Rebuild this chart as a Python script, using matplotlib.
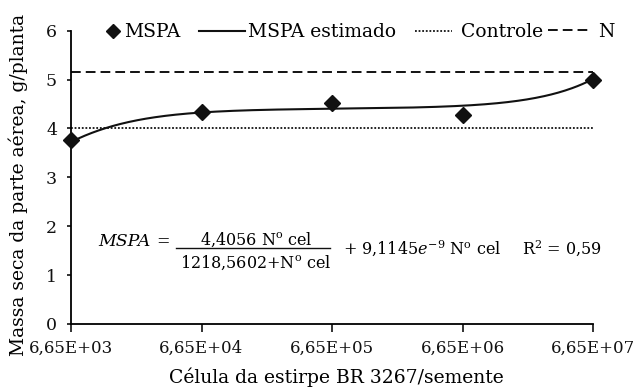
import numpy as np
import matplotlib.pyplot as plt
from matplotlib.lines import Line2D

plt.rcParams['font.family'] = ['DejaVu Serif']
plt.rcParams['mathtext.fontset'] = 'dejavuserif'

# data
cells = [6.65e3, 6.65e4, 6.65e5, 6.65e6, 6.65e7]
tick_labels = ["6,65E+03", "6,65E+04", "6,65E+05", "6,65E+06", "6,65E+07"]
mspa = [3.76, 4.34, 4.53, 4.27, 4.99]
controle = 4.0
n_level = 5.16
# coefficients printed in the fitted equation
a_coef = 4.4056
k_coef = 1218.5602
b_coef = 9.1145e-9

x_fit = np.logspace(np.log10(cells[0]), np.log10(cells[-1]), 300)
y_fit = a_coef * x_fit / (k_coef + x_fit) + b_coef * x_fit

INK = "#111111"
DOT = (0, (1, 1))
DASH = (0, (5, 2.6))

W, H = 636, 388
fig = plt.figure(figsize=(W / 100, H / 100), dpi=100)
ax = fig.add_axes([71 / W, 1 - 324 / H, (593 - 71) / W, (324 - 30.7) / H])

ax.plot(x_fit, y_fit, color=INK, lw=1.5)
ax.plot([cells[0], cells[-1]], [controle, controle], color=INK, lw=1.3, linestyle=DOT)
ax.plot([cells[0], cells[-1]], [n_level, n_level], color=INK, lw=1.4, linestyle=DASH)
ax.plot(cells, mspa, linestyle="none", marker="D", ms=8.5, color=INK, clip_on=False, zorder=5)

ax.set_xscale("log")
ax.set_xlim(cells[0], cells[-1])
ax.set_ylim(0, 6)
ax.set_xticks(cells)
ax.set_xticklabels(tick_labels)
ax.xaxis.set_minor_locator(plt.NullLocator())
ax.set_yticks(range(7))
ax.spines["top"].set_visible(False)
ax.spines["right"].set_visible(False)
ax.spines["left"].set_linewidth(1.3)
ax.spines["bottom"].set_linewidth(1.3)
ax.tick_params(direction="out", width=1.2, colors=INK)
ax.tick_params(axis="x", length=5.5, pad=6, labelsize=12)
ax.tick_params(axis="y", length=3, pad=7, labelsize=12.5)

ax.set_xlabel("Célula da estirpe BR 3267/semente", fontsize=13.5)
ax.set_ylabel("Massa seca da parte aérea, g/planta", fontsize=13.5)
ax.xaxis.set_label_coords((336 - 71) / 522, (324 - 377) / 293.3)
ax.xaxis.label.set_va("center")
ax.yaxis.set_label_coords((18 - 71) / 522, (324 - 185) / 293.3)
ax.yaxis.label.set_va("center")


def fpx(x, y):
    return x / W, 1 - y / H


def fline(x0, x1, y, **kw):
    fig.add_artist(Line2D([x0 / W, x1 / W], [1 - y / H, 1 - y / H],
                          color=INK, transform=fig.transFigure, **kw))


# legend drawn along the top
lfs = 13.5
fig.add_artist(Line2D([113 / W], [1 - 30.7 / H], marker="D", ms=7.5, color=INK,
                      linestyle="none", transform=fig.transFigure))
fig.text(*fpx(124, 36.7), "MSPA", fontsize=lfs, va="baseline", ha="left")
fline(199, 245, 30.5, lw=1.5)
fig.text(*fpx(248, 36.7), "MSPA estimado", fontsize=lfs, va="baseline", ha="left")
fline(415, 452, 31, lw=1.3, linestyle=DOT)
fig.text(*fpx(461, 36.7), "Controle", fontsize=lfs, va="baseline", ha="left")
fline(548, 588, 30, lw=1.4, linestyle=DASH)
fig.text(*fpx(598, 36.7), "N", fontsize=lfs, va="baseline", ha="left")

# fitted equation text
fs = 11.5
fig.text(*fpx(98, 246), "MSPA", style="italic", fontsize=12.5, va="baseline", ha="left")
fig.text(*fpx(163, 246), "=", fontsize=fs, va="baseline", ha="center")
fig.text(*fpx(256, 245), r"4,4056 N$^{\mathrm{o}}$ cel", fontsize=fs, va="baseline", ha="center")
fig.text(*fpx(256, 268), r"1218,5602+N$^{\mathrm{o}}$ cel", fontsize=fs, va="baseline", ha="center")
fline(176, 330, 248, lw=1.0)
fig.text(*fpx(343, 255), r"+ 9,1145$\mathit{e}^{\mathrm{-9}}$ N$^{\mathrm{o}}$ cel", fontsize=fs, va="baseline", ha="left")
fig.text(*fpx(522, 255), r"R$^{2}$ = 0,59", fontsize=fs, va="baseline", ha="left")

fig.savefig("out.png", dpi=100)
